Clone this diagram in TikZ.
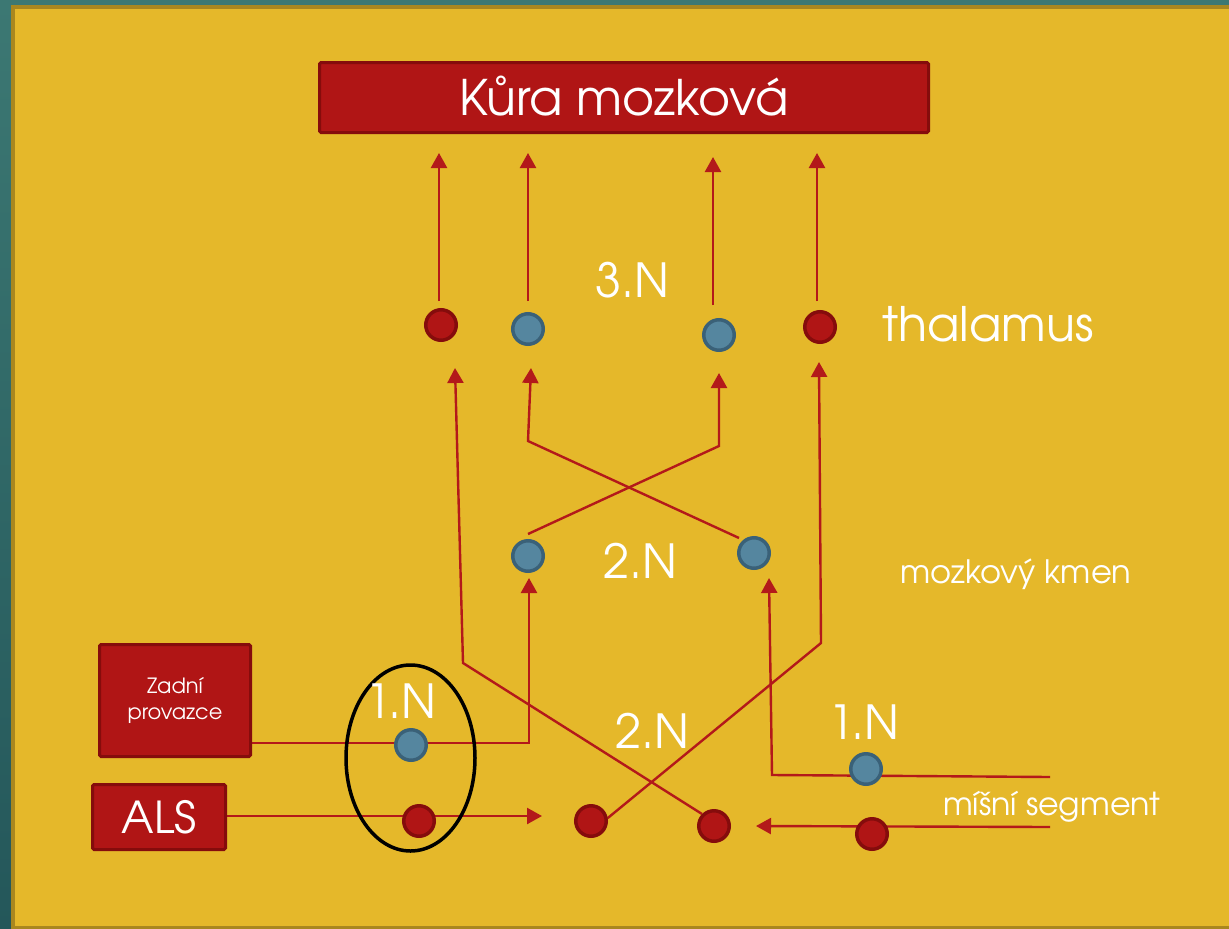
\documentclass[tikz,border=0pt]{standalone}
\usepackage{fontspec}
\setmainfont{texgyreadventor-regular.otf}
\usetikzlibrary{arrows.meta,shapes.geometric}
\definecolor{tealA}{HTML}{3C7873}
\definecolor{tealB}{HTML}{24575A}
\definecolor{yel}{HTML}{E5B82A}
\definecolor{yelB}{HTML}{A9871F}
\definecolor{redF}{HTML}{B01515}
\definecolor{redB}{HTML}{850C0C}
\definecolor{bluF}{HTML}{55869F}
\definecolor{bluB}{HTML}{3A6178}
\definecolor{wirec}{HTML}{B3191A}
\pgfdeclarelayer{back}
\pgfdeclarelayer{mid}
\pgfsetlayers{back,mid,main}
\begin{document}
\begin{tikzpicture}[x=1pt,y=-1pt,
  wire/.style={draw=wirec, line width=2.4pt},
  arr/.style={wire, -{Triangle[length=15pt,width=16pt]}},
  dotbase/.style={circle, line width=3.5pt, minimum size=30.5pt, inner sep=0pt},
  redn/.style={dotbase, fill=redF, draw=redB},
  blun/.style={dotbase, fill=bluF, draw=bluB},
  rbox/.style={fill=redF, draw=redB, line width=3pt, rounded corners=1.5pt, inner sep=0pt, text=white, align=center},
  lbl/.style={text=white, inner sep=0pt}
]
\useasboundingbox (0,0) rectangle (1229,929);
\begin{pgfonlayer}{back}
  \fill[top color=tealA, bottom color=tealB] (0,0) rectangle (1229,929);
  \draw[draw=yelB, fill=yel, line width=4pt] (13,7) rectangle (1240,927.5);
\end{pgfonlayer}

% boxes
\node[rbox, minimum width=609pt, minimum height=70pt, text height=36pt, text depth=0pt,
      font=\fontsize{49}{59}\selectfont] (kura) at (624,97.5) {Kůra mozková};
\node[rbox, minimum width=151pt, minimum height=112pt,
      font=\fontsize{21}{26}\selectfont] (zp) at (175,700.5) {Zadní\\provazce};
\node[rbox, minimum width=133pt, minimum height=65pt, text height=32pt, text depth=0pt,
      font=\fontsize{44}{52}\selectfont] (als) at (159,817) {ALS};

% circles
\node[redn] (r1) at (441,325) {};
\node[blun] (b1) at (528,329) {};
\node[blun] (b2) at (719,335) {};
\node[redn] (r2) at (820,327) {};
\node[blun] (b3) at (528,556) {};
\node[blun] (b4) at (754,553) {};
\node[blun] (bz) at (411,745) {};
\node[redn] (ra) at (419,821) {};
\node[redn] (r5) at (591,821) {};
\node[redn] (r6) at (714,826) {};
\node[blun] (b7) at (866,769) {};
\node[redn] (r8) at (872,834) {};

% ellipse
\node[ellipse, draw=black, line width=3.5pt, minimum width=129pt, minimum height=186pt, inner sep=0pt] (ell) at (410.5,758) {};

% coordinates
\coordinate (k1s) at (439,301); \coordinate (k1e) at (439,153);
\coordinate (k2s) at (528,301); \coordinate (k2e) at (528,153);
\coordinate (k3s) at (713,305); \coordinate (k3e) at (713,157);
\coordinate (k4s) at (817,301); \coordinate (k4e) at (817,153);
\coordinate (c1m) at (529,743); \coordinate (c1e) at (529,578);
\coordinate (c2e) at (542,816);
\coordinate (c3s) at (528,534); \coordinate (c3m) at (719,446); \coordinate (c3e) at (719,373);
\coordinate (c4s) at (739,538); \coordinate (c4m) at (528,441); \coordinate (c4e) at (531,368);
\coordinate (c5m) at (821,643); \coordinate (c5e) at (819,362);
\coordinate (c6m) at (463,663); \coordinate (c6e) at (455,368);
\coordinate (c7s) at (1050,777); \coordinate (c7m) at (772,775); \coordinate (c7e) at (769,578);
\coordinate (c8s) at (1050,827); \coordinate (c8e) at (756,826);

\begin{pgfonlayer}{mid}
  \draw[arr] (k1s) -- (k1e);
  \draw[arr] (k2s) -- (k2e);
  \draw[arr] (k3s) -- (k3e);
  \draw[arr] (k4s) -- (k4e);
  \draw[arr] (zp.east |- c1m) -- (c1m) -- (c1e);
  \draw[arr] (als.east |- c2e) -- (c2e);
  \draw[arr] (c3s) -- (c3m) -- (c3e);
  \draw[arr] (c4s) -- (c4m) -- (c4e);
  \draw[arr] (r5.10) -- (c5m) -- (c5e);
  \draw[arr] (r6.135) -- (c6m) -- (c6e);
  \draw[arr] (c7s) -- (c7m) -- (c7e);
  \draw[arr] (c8s) -- (c8e);
\end{pgfonlayer}

% labels
\node[lbl, anchor=base, font=\fontsize{47}{56}\selectfont] (n3) at (632,297) {3.N};
\node[lbl, anchor=base, font=\fontsize{47}{56}\selectfont] (n2a) at (640,578) {2.N};
\node[lbl, anchor=base, font=\fontsize{47}{56}\selectfont] (n2b) at (652,748) {2.N};
\node[lbl, anchor=base, font=\fontsize{47}{56}\selectfont] (n1a) at (401,718) {1.N};
\node[lbl, anchor=base, font=\fontsize{47}{56}\selectfont] (n1b) at (864,739) {1.N};
\node[lbl, anchor=base west, font=\fontsize{47.5}{57}\selectfont] (thal) at (882,341) {thalamus};
\node[lbl, anchor=base west, font=\fontsize{32.2}{38}\selectfont] (kmen) at (900,583) {mozkový kmen};
\node[lbl, anchor=base west, font=\fontsize{31.7}{38}\selectfont] (seg) at (943,815) {míšní segment};
\end{tikzpicture}
\end{document}
